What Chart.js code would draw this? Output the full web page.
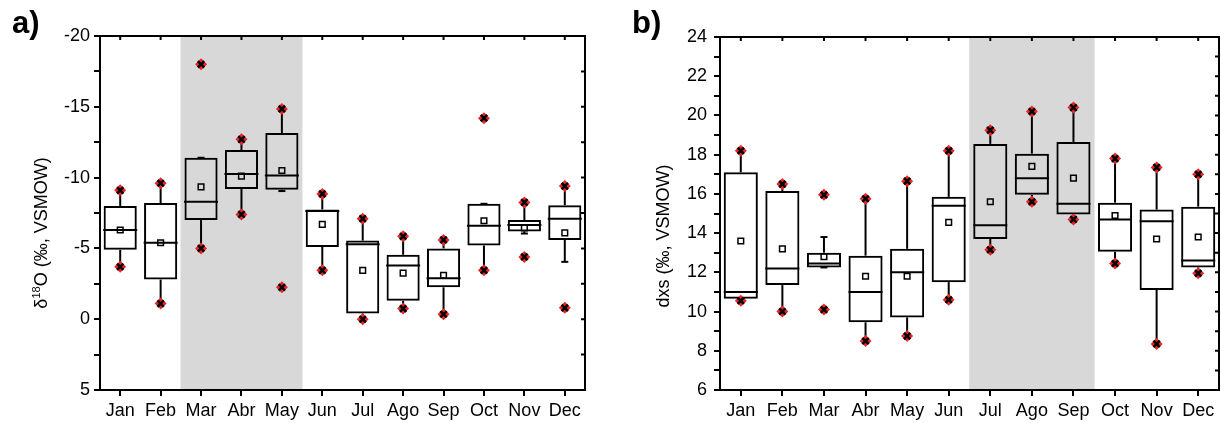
<!DOCTYPE html>
<html lang="en">
  <head>
    <meta charset="UTF-8" />
    <title>d18O and dxs monthly box plots</title>
    <script src="https://cdn.jsdelivr.net/npm/chart.js@4.4.1/dist/chart.umd.min.js"></script>
    <style>
      body { margin: 0; background: #fff; width: 1221px; height: 423px; overflow: hidden; position: relative; font-family: "Liberation Sans", Arial, sans-serif; }
      canvas { position: absolute; top: 0; }
      #c1 { left: 0; }
      #c2 { left: 620px; }
      .panel { position: absolute; font-weight: bold; font-size: 31px; line-height: 1; }
      .ytitle { position: absolute; font-size: 18px; white-space: nowrap; transform: translate(-50%, -50%) rotate(-90deg); }
      .ytitle sup { font-size: 11px; vertical-align: 7px; line-height: 0; }
    </style>
  </head>
  <body>
    <canvas id="c1" width="600" height="423"></canvas>
    <canvas id="c2" width="601" height="423"></canvas>
    <div class="panel" style="left:12px;top:7px">a)</div>
    <div class="panel" style="left:632px;top:7px">b)</div>
    <div class="ytitle" style="left:41px;top:233px">δ<sup>18</sup>O (‰, VSMOW)</div>
    <div class="ytitle" style="left:663px;top:236px">dxs (‰, VSMOW)</div>

    <script>
      const months = ["Jan", "Feb", "Mar", "Abr", "May", "Jun", "Jul", "Ago", "Sep", "Oct", "Nov", "Dec"];

      // d18O (per mil) - panel a
      const oQ1 = [-8.0, -8.2, -11.4, -11.95, -13.15, -7.75, -5.55, -4.55, -5.0, -8.15, -7.0, -8.05];
      const oQ3 = [-4.9, -2.8, -7.0, -9.2, -9.15, -5.1, -0.4, -1.3, -2.25, -5.2, -6.2, -5.6];
      const oMed = [-6.3, -5.4, -8.3, -10.25, -10.15, -7.65, -5.3, -3.8, -2.9, -6.6, -6.65, -7.1];
      const oMean = [-6.3, -5.4, -9.35, -10.1, -10.5, -6.7, -3.45, -3.25, -3.1, -6.95, -6.45, -6.1];
      const oWLo = [-9.1, -9.6, -11.4, -12.7, -14.8, -8.85, -7.1, -5.85, -5.6, -8.15, -8.25, -9.4];
      const oWHi = [-3.7, -1.1, -5.0, -7.4, -9.05, -3.45, 0.0, -0.75, -0.35, -3.45, -6.05, -4.05];
      const oMin = [-9.1, -9.6, -18.0, -12.7, -14.85, -8.85, -7.1, -5.85, -5.6, -14.2, -8.25, -9.4];
      const oMax = [-3.7, -1.1, -5.0, -7.4, -2.25, -3.45, 0.0, -0.75, -0.35, -3.45, -4.4, -0.8];
      const oBand = ["Mar", "Abr", "May"];

      // dxs (per mil) - panel b
      const dQ1 = [10.65, 11.35, 12.25, 9.45, 9.7, 11.5, 13.7, 15.95, 14.95, 13.05, 11.1, 12.25];
      const dQ3 = [17.1, 16.15, 13.0, 12.85, 13.2, 15.85, 18.55, 18.05, 18.65, 15.55, 15.2, 15.35];
      const dMed = [11.0, 12.2, 12.45, 11.0, 12.0, 15.4, 14.4, 16.8, 15.5, 14.7, 14.6, 12.6];
      const dMean = [13.6, 13.2, 12.8, 11.8, 11.8, 14.55, 15.6, 17.4, 16.8, 14.9, 13.7, 13.8];
      const dWLo = [10.55, 10.0, 12.25, 8.5, 8.75, 10.6, 13.15, 15.6, 14.7, 12.45, 8.35, 11.95];
      const dWHi = [18.2, 16.5, 13.8, 15.75, 16.65, 18.2, 19.25, 20.2, 20.4, 17.8, 17.35, 17.0];
      const dMin = [10.55, 10.0, 10.1, 8.5, 8.75, 10.6, 13.15, 15.6, 14.7, 12.45, 8.35, 11.95];
      const dMax = [18.2, 16.5, 15.95, 15.75, 16.65, 18.2, 19.25, 20.2, 20.4, 17.8, 17.35, 17.0];
      const dBand = ["Jul", "Ago", "Sep"];

      Chart.defaults.font.family = "'Liberation Sans', Arial, sans-serif";
      Chart.defaults.font.size = 18;
      Chart.defaults.color = "#000";

      // closes the box and adds the small inner ticks on top and right
      const framePlugin = {
        id: "frame",
        afterDraw(chart) {
          const { ctx, chartArea: a, scales } = chart;
          ctx.save();
          ctx.strokeStyle = "#000";
          ctx.lineWidth = 2;
          ctx.strokeRect(a.left, a.top, a.right - a.left, a.bottom - a.top);
          ctx.beginPath();
          scales.x.ticks.forEach((t, i) => {
            const x = scales.x.getPixelForTick(i);
            ctx.moveTo(x, a.top);
            ctx.lineTo(x, a.top + 4);
          });
          scales.y.ticks.forEach((t, i) => {
            const y = scales.y.getPixelForTick(i);
            ctx.moveTo(a.right, y);
            ctx.lineTo(a.right - 4, y);
          });
          ctx.stroke();
          ctx.restore();
        },
      };

      function pts(data, style, radius, extra) {
        return Object.assign(
          {
            type: "line",
            data: data,
            showLine: false,
            pointStyle: style,
            pointRadius: radius,
            pointBackgroundColor: "rgba(0,0,0,0)",
            pointBorderColor: "#000",
            pointBorderWidth: 2,
          },
          extra
        );
      }

      function makeChart(id, s) {
        const ctx = document.getElementById(id).getContext("2d");
        const band = months.map((m) => (s.band.includes(m) ? [s.min, s.max] : null));
        return new Chart(ctx, {
          type: "bar",
          data: {
            labels: months,
            datasets: [
              {
                data: band,
                backgroundColor: "#d8d8d8",
                borderWidth: 0,
                barPercentage: 1,
                categoryPercentage: 1,
                grouped: false,
                order: 9,
              },
              {
                data: months.map((m, i) => [s.wLo[i], s.q1[i]]),
                backgroundColor: "#000",
                borderWidth: 0,
                maxBarThickness: 2,
                grouped: false,
                order: 8,
              },
              {
                data: months.map((m, i) => [s.q3[i], s.wHi[i]]),
                backgroundColor: "#000",
                borderWidth: 0,
                maxBarThickness: 2,
                grouped: false,
                order: 8,
              },
              {
                data: months.map((m, i) => [s.q1[i], s.q3[i]]),
                backgroundColor: "rgba(0,0,0,0)",
                borderColor: "#000",
                borderWidth: 2,
                borderSkipped: false,
                barPercentage: 0.82,
                categoryPercentage: 1,
                grouped: false,
                order: 7,
              },
              pts(s.wLo, "line", 3.5, { order: 6 }),
              pts(s.wHi, "line", 3.5, { order: 6 }),
              pts(s.med, "line", 17, { order: 5 }),
              pts(s.mean, "rect", 4, { pointBorderWidth: 1.5, order: 4 }),
              pts(s.lo, "rectRot", 6, { pointBackgroundColor: "#ee2424", pointBorderWidth: 0, order: 3 }),
              pts(s.hi, "rectRot", 6, { pointBackgroundColor: "#ee2424", pointBorderWidth: 0, order: 3 }),
              pts(s.lo, "crossRot", 4.5, { pointBorderWidth: 2.5, order: 2 }),
              pts(s.hi, "crossRot", 4.5, { pointBorderWidth: 2.5, order: 2 }),
            ],
          },
          options: {
            responsive: false,
            animation: false,
            events: [],
            layout: { padding: s.pad, autoPadding: false },
            plugins: { legend: { display: false }, tooltip: { enabled: false } },
            scales: {
              x: {
                offset: true,
                border: { color: "#000", width: 2 },
                grid: { offset: false, drawOnChartArea: false, drawTicks: true, tickLength: 6, color: "#000", lineWidth: 2 },
                ticks: { padding: 4, maxRotation: 0, autoSkip: false },
                afterFit: (scale) => {
                  scale.height = 33;
                  scale.paddingLeft = 0;
                  scale.paddingRight = 0;
                },
              },
              y: {
                min: s.min,
                max: s.max,
                reverse: s.reverse,
                border: { color: "#000", width: 2 },
                grid: { drawOnChartArea: false, drawTicks: true, tickLength: 6, color: "#000", lineWidth: 2 },
                ticks: {
                  stepSize: s.minor,
                  autoSkip: false,
                  padding: s.tickPad,
                  callback: (v) => (v % s.major === 0 ? String(v) : ""),
                },
                afterFit: (scale) => { scale.width = 60; },
              },
            },
          },
          plugins: [framePlugin],
        });
      }

      makeChart("c1", {
        q1: oQ1, q3: oQ3, med: oMed, mean: oMean, wLo: oWLo, wHi: oWHi, lo: oMin, hi: oMax, band: oBand,
        min: -20, max: 5, reverse: true, minor: 2.5, major: 5, tickPad: 4,
        pad: { left: 40, top: 36, right: 15, bottom: 0 },
      });

      makeChart("c2", {
        q1: dQ1, q3: dQ3, med: dMed, mean: dMean, wLo: dWLo, wHi: dWHi, lo: dMin, hi: dMax, band: dBand,
        min: 6, max: 24, reverse: false, minor: 1, major: 2, tickPad: 7,
        pad: { left: 40, top: 37, right: 2, bottom: 0 },
      });
    </script>
  </body>
</html>
